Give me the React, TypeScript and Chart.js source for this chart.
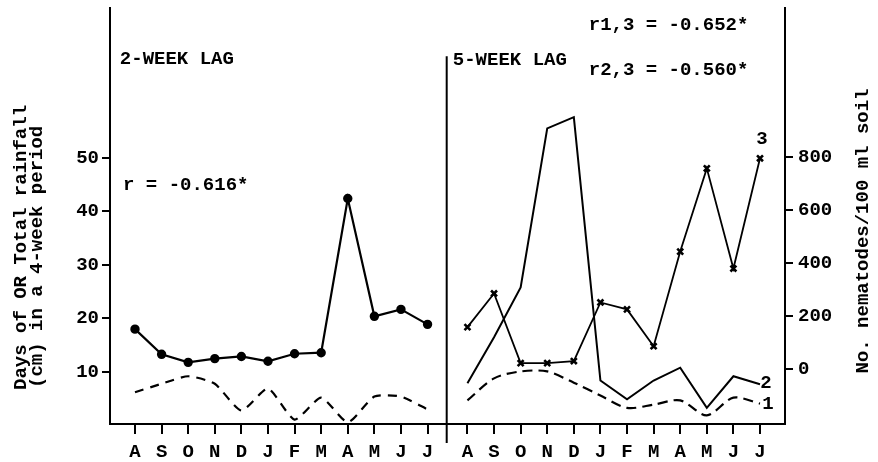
import { useEffect, useRef } from 'react';
import { Chart, registerables } from 'chart.js';
Chart.register(...registerables);

const months = ['A', 'S', 'O', 'N', 'D', 'J', 'F', 'M', 'A', 'M', 'J', 'J'];
// 2-week lag panel (left scale)
const lag2Solid = [18.0, 13.3, 11.8, 12.5, 12.9, 12.0, 13.4, 13.6, 42.4, 20.4, 21.7, 18.9];
const lag2Dashed = [6.2, 7.8, 9.2, 7.8, 2.8, 6.9, 1.1, 5.2, 0.6, 5.4, 5.4, 3.0];
// 5-week lag panel (left scale for 1 and 2, right scale for 3)
const lag5Line1 = [4.7, 8.8, 10.1, 10.1, 8.0, 5.6, 3.3, 3.9, 4.7, 1.9, 5.2, 4.1];
const lag5Line2 = [7.9, 16.5, 25.8, 55.5, 57.6, 8.4, 4.9, 8.4, 10.8, 3.3, 9.2, 7.7];
const nematodes = [158, 285, 22, 22, 30, 251, 225, 86, 443, 757, 379, 795];
const leftTicks = [10, 20, 30, 40, 50];
const rightTicks = [0, 200, 400, 600, 800];

const PANEL2_OFFSET = 12.5;
const FONT = 'Liberation Mono';

const toPts = (arr: number[], off: number) => arr.map((v, i) => ({ x: i + off, y: v }));

export default function App() {
  const ref = useRef<HTMLCanvasElement>(null);
  useEffect(() => {
    if (!ref.current) return;
    const allMonths = [...months, ...months];
    const xPositions = [...months.map((_, i) => i), ...months.map((_, i) => i + PANEL2_OFFSET)];

    const annot = {
      id: 'annot',
      afterDraw(chart: any) {
        const { ctx, chartArea } = chart;
        const x = chart.scales.x;
        const y = chart.scales.y;
        const y2 = chart.scales.y2;
        ctx.save();
        ctx.fillStyle = '#000';
        ctx.strokeStyle = '#000';
        // divider
        const dx = x.getPixelForValue(11.72);
        ctx.lineWidth = 2;
        ctx.beginPath();
        ctx.moveTo(dx, y.getPixelForValue(69.0));
        ctx.lineTo(dx, chartArea.bottom + 19);
        ctx.stroke();
        ctx.font = `bold 19px "${FONT}"`;
        ctx.textBaseline = 'middle';
        ctx.textAlign = 'left';
        ctx.fillText('2-WEEK LAG', x.getPixelForValue(-0.57), y.getPixelForValue(68.5));
        ctx.fillText('r = -0.616*', x.getPixelForValue(-0.45), y.getPixelForValue(44.9));
        ctx.fillText('5-WEEK LAG', x.getPixelForValue(11.95), y.getPixelForValue(68.3));
        ctx.fillText('r1,3 = -0.652*', x.getPixelForValue(17.06), y.getPixelForValue(74.7));
        ctx.fillText('r2,3 = -0.560*', x.getPixelForValue(17.06), y.getPixelForValue(66.3));
        // series labels
        const lastX = x.getPixelForValue(11 + PANEL2_OFFSET);
        ctx.textAlign = 'center';
        ctx.fillText('3', lastX + 2, y2.getPixelForValue(nematodes[11]) - 19);
        ctx.fillText('2', lastX + 6, y.getPixelForValue(lag5Line2[11]) - 1);
        ctx.fillText('1', lastX + 8, y.getPixelForValue(lag5Line1[11]) + 1);
        // axis titles
        ctx.save();
        ctx.translate(21, 390);
        ctx.rotate(-Math.PI / 2);
        ctx.textAlign = 'left';
        ctx.fillText('Days of OR Total rainfall', 0, 0);
        ctx.fillText('(cm) in a 4-week period', 2, 16);
        ctx.restore();
        ctx.save();
        ctx.translate(863, 231);
        ctx.rotate(-Math.PI / 2);
        ctx.textAlign = 'center';
        ctx.fillText('No. nematodes/100 ml soil', 0, 0);
        ctx.restore();
        ctx.restore();
      },
    };

    const noPad = (s: any, w: number) => {
      s.width = w;
      s.paddingTop = 0;
      s.paddingBottom = 0;
    };

    const chart = new Chart(ref.current, {
      type: 'line',
      data: {
        datasets: [
          {
            data: toPts(lag2Solid, 0), yAxisID: 'y', borderColor: '#000', borderWidth: 2.2,
            pointRadius: 3.6, pointBackgroundColor: '#000', pointBorderColor: '#000', tension: 0,
          },
          {
            data: toPts(lag2Dashed, 0), yAxisID: 'y', borderColor: '#000', borderWidth: 2.2,
            borderDash: [9, 7], pointRadius: 0, tension: 0.2,
          },
          {
            data: toPts(lag5Line1, PANEL2_OFFSET), yAxisID: 'y', borderColor: '#000', borderWidth: 2.2,
            borderDash: [10, 6], pointRadius: 0, tension: 0.3,
          },
          {
            data: toPts(lag5Line2, PANEL2_OFFSET), yAxisID: 'y', borderColor: '#000', borderWidth: 2,
            pointRadius: 0, tension: 0,
          },
          {
            data: toPts(nematodes, PANEL2_OFFSET), yAxisID: 'y2', borderColor: '#000', borderWidth: 1.8,
            pointStyle: 'crossRot', pointRadius: 4.2, pointBorderWidth: 2.6, pointBorderColor: '#000', tension: 0,
          },
        ],
      },
      options: {
        animation: false,
        responsive: true,
        maintainAspectRatio: false,
        layout: { padding: { top: 8, left: 0, right: 0, bottom: 0 } },
        plugins: { legend: { display: false }, tooltip: { enabled: false } },
        scales: {
          x: {
            type: 'linear',
            min: -0.94,
            max: 24.44,
            afterBuildTicks: (s: any) => { s.ticks = xPositions.map((v) => ({ value: v })); },
            afterFit: (s: any) => { s.height = 38; s.paddingLeft = 0; s.paddingRight = 0; },
            ticks: {
              autoSkip: false, maxRotation: 0, color: '#000', padding: 7,
              font: { family: FONT, size: 19, weight: 'bold' },
              callback: (_v: any, i: number) => allMonths[i],
            },
            grid: { display: true, drawOnChartArea: false, drawTicks: true, tickLength: 10, color: '#000', lineWidth: 2 },
            border: { display: true, color: '#000', width: 2 },
          },
          y: {
            type: 'linear', position: 'left', min: 0.28, max: 78.0,
            afterBuildTicks: (s: any) => { s.ticks = leftTicks.map((v) => ({ value: v })); },
            afterFit: (s: any) => noPad(s, 110),
            ticks: { color: '#000', padding: 3, font: { family: FONT, size: 19, weight: 'bold' } },
            grid: { display: true, drawOnChartArea: false, drawTicks: true, tickLength: 8, color: '#000', lineWidth: 2 },
            border: { display: true, color: '#000', width: 2 },
          },
          y2: {
            type: 'linear', position: 'right', min: -207.5, max: 1362,
            afterBuildTicks: (s: any) => { s.ticks = rightTicks.map((v) => ({ value: v })); },
            afterFit: (s: any) => noPad(s, 93),
            ticks: { color: '#000', padding: 5, font: { family: FONT, size: 19, weight: 'bold' } },
            grid: { display: true, drawOnChartArea: false, drawTicks: true, tickLength: 8, color: '#000', lineWidth: 2 },
            border: { display: true, color: '#000', width: 2 },
          },
        },
      },
      plugins: [annot],
    } as any);
    return () => chart.destroy();
  }, []);
  return (
    <div style={{ position: 'fixed', left: 0, top: 0, width: 878, height: 462, background: '#fff' }}>
      <canvas ref={ref} />
    </div>
  );
}
